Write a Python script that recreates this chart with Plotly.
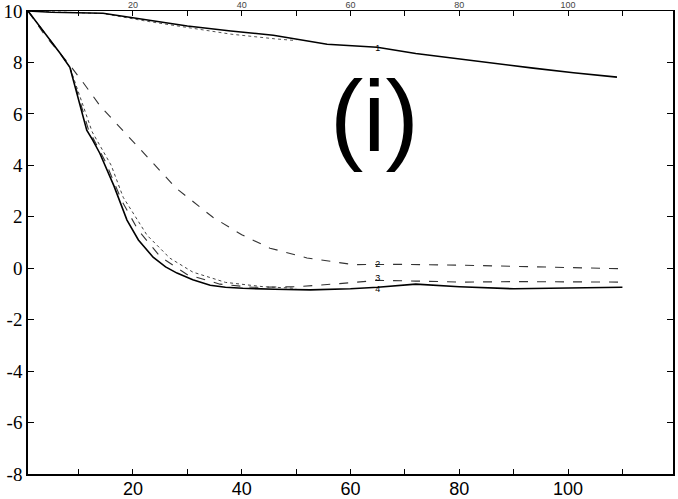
import plotly.graph_objects as go

# Curve 1 (top, slow decay)
x_c1 = [0.7, 5, 14.5, 22.6, 30, 38, 45.8, 55.7, 64.9, 72, 81.4, 93.6, 101, 109]
y_c1 = [10.0, 9.95, 9.91, 9.64, 9.42, 9.22, 9.06, 8.71, 8.59, 8.35, 8.09, 7.78, 7.6, 7.43]
# faint companion of curve 1
x_c1b = [0.7, 14.5, 22.6, 30, 38, 46, 50]
y_c1b = [10.0, 9.9, 9.6, 9.35, 9.1, 8.92, 8.85]

# Curve 2 (slower sigmoid, ends near 0)
x_c2 = [0.7, 4, 8, 10.8, 14, 17.6, 19.5, 23.1, 28, 34.7, 40, 45.2, 52, 60.5, 70, 80, 90, 100, 110]
y_c2 = [10.0, 9.0, 8.0, 7.23, 6.3, 5.48, 5.05, 4.2, 3.1, 1.98, 1.3, 0.78, 0.4, 0.14, 0.15, 0.12, 0.07, 0.02, -0.02]

# Curve 3 (steep, ends near -0.5)
x_c3 = [0.7, 2, 6.6, 8.4, 11.8, 14.8, 18, 20.9, 25, 30, 36, 42, 50, 58, 65, 72, 81, 90, 100, 110]
y_c3 = [10.0, 9.64, 8.36, 7.81, 5.4, 4.2, 2.6, 1.5, 0.45, -0.25, -0.62, -0.74, -0.72, -0.6, -0.47, -0.5, -0.54, -0.52, -0.53, -0.54]

# Curve 4 (steepest, ends near -0.75)
x_c4 = [0.7, 2, 6.6, 8.4, 11.5, 12.6, 13.9, 16.5, 18.9, 21, 23.7, 26, 28.1, 31, 34.2, 37, 40.2, 46, 52.6, 60, 65, 72, 80, 90, 100, 110]
y_c4 = [10.0, 9.64, 8.36, 7.81, 5.37, 4.98, 4.47, 3.2, 1.87, 1.1, 0.43, 0.05, -0.19, -0.45, -0.66, -0.74, -0.78, -0.82, -0.84, -0.8, -0.74, -0.62, -0.72, -0.8, -0.76, -0.74]
# faint companion of curve 4 (merges at the floor)
x_c4b = [0.7, 2, 6.6, 8.4, 12.5, 16, 18.2, 22.6, 26.8, 31, 37, 44, 50]
y_c4b = [10.0, 9.64, 8.36, 7.81, 5.3, 4.0, 2.76, 1.28, 0.39, -0.15, -0.55, -0.72, -0.78]

label_x = [65, 65, 65, 65]
label_y = [8.55, 0.15, -0.42, -0.85]
label_text = ["1", "2", "3", "4"]

x_ticks = [10, 20, 30, 40, 50, 60, 70, 80, 90, 100, 110]
x_ticktext = ["", "20", "", "40", "", "60", "", "80", "", "100", ""]
y_ticks = [-8, -6, -4, -2, 0, 2, 4, 6, 8, 10]
y_ticktext = ["-8", "-6", "-4", "-2", "0", "2", "4", "6", "8", "10"]

fig = go.Figure()
fig.add_trace(go.Scatter(x=x_c1b, y=y_c1b, mode="lines",
                         line=dict(color="#555", width=1, dash="dot"), showlegend=False))
fig.add_trace(go.Scatter(x=x_c1, y=y_c1, mode="lines",
                         line=dict(color="black", width=1.6), showlegend=False))
fig.add_trace(go.Scatter(x=x_c2, y=y_c2, mode="lines",
                         line=dict(color="#333", width=1.1, dash="dash"), showlegend=False))
fig.add_trace(go.Scatter(x=x_c4b, y=y_c4b, mode="lines",
                         line=dict(color="#444", width=1, dash="dot"), showlegend=False))
fig.add_trace(go.Scatter(x=x_c3, y=y_c3, mode="lines",
                         line=dict(color="#333", width=1.1, dash="dash"), showlegend=False))
fig.add_trace(go.Scatter(x=x_c4, y=y_c4, mode="lines",
                         line=dict(color="black", width=1.6), showlegend=False))
fig.add_trace(go.Scatter(x=label_x, y=label_y, mode="text", text=label_text,
                         textfont=dict(family="Liberation Sans", size=9, color="black"),
                         showlegend=False))
# top mirror axis
fig.add_trace(go.Scatter(x=[None], y=[None], xaxis="x2", showlegend=False))

fig.add_annotation(x=64.5, y=5.9, text="(i)", showarrow=False,
                   font=dict(family="Liberation Sans", size=100, color="black"))

fig.update_layout(
    width=678, height=499,
    margin=dict(l=28, r=5, t=11, b=25, autoexpand=False),
    paper_bgcolor="white", plot_bgcolor="white",
    xaxis=dict(range=[0.7, 119.3], tickvals=x_ticks, ticktext=x_ticktext,
               ticks="inside", ticklen=5, tickcolor="black", automargin=False,
               showline=True, linecolor="black", linewidth=1.5,
               showgrid=False, zeroline=False, ticklabelstandoff=-2,
               tickfont=dict(family="Liberation Sans", size=18, color="black")),
    xaxis2=dict(range=[0.7, 119.3], overlaying="x", side="top",
                tickvals=x_ticks, ticktext=x_ticktext, automargin=False,
                ticks="inside", ticklen=5, tickcolor="black",
                showline=True, linecolor="black", linewidth=1.2,
                showgrid=False, zeroline=False, ticklabelstandoff=-2,
                tickfont=dict(family="Liberation Sans", size=9, color="#444")),
    yaxis=dict(range=[-8, 10], tickvals=y_ticks, ticktext=y_ticktext,
               ticks="inside", ticklen=6, tickcolor="black", automargin=False,
               showline=True, linecolor="black", linewidth=1.5, mirror="ticks",
               showgrid=False, zeroline=False,
               tickfont=dict(family="Liberation Serif", size=19, color="black")),
)

fig.write_html(
    "out.html",
    config={"displayModeBar": False},
    post_script="document.body.style.margin='0';document.body.style.overflow='hidden';",
)
